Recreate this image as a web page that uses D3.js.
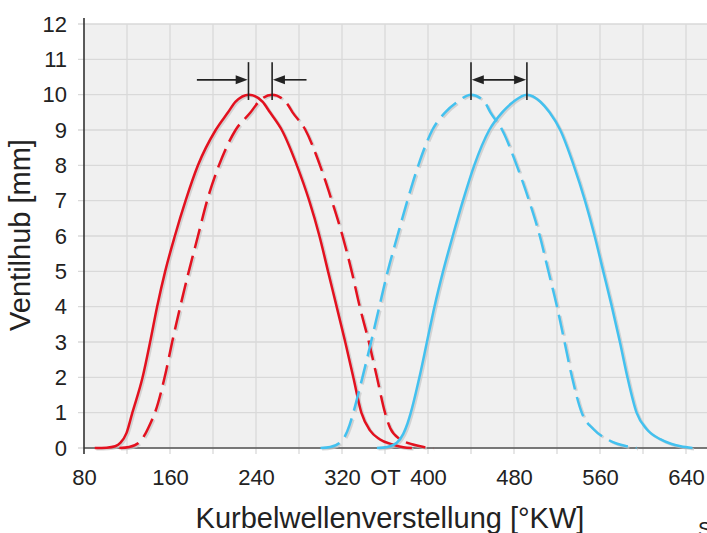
<!DOCTYPE html>
<html>
<head>
<meta charset="utf-8">
<script src="https://cdn.jsdelivr.net/npm/d3@7"></script>
<style>
  html, body { margin: 0; padding: 0; background: #ffffff; }
  svg { display: block; }
  text { font-family: "Liberation Sans", Arial, Helvetica, sans-serif; fill: #222; }
</style>
</head>
<body>
<svg id="chart" width="707" height="533"></svg>
<script>
// ---------- data (crank angle [°KW], valve lift [mm]) ----------
const redSolidAngle = [90,101,109,114,119.5,125,134.5,141.5,148,155.5,164.5,174.5,186,202.5,214,221,233.5,246,253,264,278,289.5,299,307,315,323,330.5,338,346,355,367,377,385];
const redSolidLift  = [0,0.01,0.05,0.15,0.42,1,2,3,4,5,6,7,8,9,9.5,9.8,10,9.8,9.5,9,8,7,6,5,4,3,2,1,0.5,0.25,0.1,0.02,0];

const redDashAngle = [113,122,131,137,141.5,146,155,162,169.5,177.5,186,194.5,205.5,221,235,242.5,255,267.5,274,286,299.5,310.5,320.5,329,336.5,345,352.5,360,365,374,386,396,405];
const redDashLift  = [0,0.03,0.15,0.4,0.68,1,2,3,4,5,6,7,8,9,9.5,9.8,10,9.8,9.5,9,8,7,6,5,4,3,2,1,0.55,0.25,0.1,0.03,0];

const blueSolidAngle = [352.5,362,371,377,381,384,392,399,406,414,423,432.5,443,457,469,479.5,492,504.5,513,523,535.5,546,555,563,571,578.5,585.5,594,603.5,616,626,635,646];
const blueSolidLift  = [0,0.03,0.15,0.4,0.7,1,2,3,4,5,6,7,8,9,9.5,9.8,10,9.8,9.5,9,8,7,6,5,4,3,2,1,0.53,0.25,0.12,0.05,0];

const blueDashAngle = [300,309,318,323,327,330.5,339,347,354.7,362.5,371.5,380.8,391,404,416,427.5,440,452.5,458,469,482.5,494,504,512,520,527,534,543,554,566.5,576,585,594];
const blueDashLift  = [0,0.03,0.15,0.35,0.65,1,2,3,4,5,6,7,8,9,9.5,9.8,10,9.8,9.5,9,8,7,6,5,4,3,2,1,0.53,0.25,0.12,0.05,0];

// peak markers and shift arrows
const markerAngles = [233, 255, 440, 492];
const markerLiftRange = [9.85, 10.92];
const arrowLift = 10.42;
const redArrowFrom = [185, 287];   // arrows pointing inward to red peaks
const redArrowTo   = [233, 255];
const blueArrowEnds = [440, 492];  // double-headed arrow

const xTickValues = [80,160,240,320,360,400,480,560,640];
const xTickLabels = ["80","160","240","320","OT","400","480","560","640"];
const xGridValues = [120,160,200,240,280,320,360,400,440,480,520,560,600,640];
const yTickValues = [0,1,2,3,4,5,6,7,8,9,10,11,12];

const xTitle = "Kurbelwellenverstellung [°KW]";
const yTitle = "Ventilhub [mm]";

// ---------- layout ----------
const svg = d3.select("#chart");
const mLeft = 84, mRight = 707, mTop = 24, mBottom = 448;
const x = d3.scaleLinear().domain([80, 80 + (mRight - mLeft) / 1.075]).range([mLeft, mRight]);
const y = d3.scaleLinear().domain([0, 12]).range([mBottom, mTop]);

const RED = "#e3111f", BLUE = "#43c1ef";

// background
svg.append("rect").attr("x", mLeft).attr("y", mTop).attr("width", mRight - mLeft).attr("height", mBottom - mTop).attr("fill", "#f0f0f0");

// grid
const grid = svg.append("g").attr("stroke", "#d9d9d9").attr("stroke-width", 1.3);
grid.selectAll("line.v").data(xGridValues).join("line").attr("class", "v")
  .attr("x1", d => x(d)).attr("x2", d => x(d)).attr("y1", mTop).attr("y2", mBottom + 6);
grid.selectAll("line.h").data(yTickValues).join("line").attr("class", "h")
  .attr("x1", mLeft - 6).attr("x2", mRight).attr("y1", d => y(d)).attr("y2", d => y(d));

// axes lines
svg.append("line").attr("x1", mLeft).attr("x2", mRight).attr("y1", mBottom).attr("y2", mBottom).attr("stroke", "#555").attr("stroke-width", 1.6);
svg.append("line").attr("x1", mLeft).attr("x2", mLeft).attr("y1", mTop - 6).attr("y2", mBottom + 6).attr("stroke", "#333").attr("stroke-width", 1.6);

// tick labels
const yAxis = d3.axisLeft(y).tickValues(yTickValues).tickSize(0).tickPadding(17);
const gy = svg.append("g").attr("transform", `translate(${mLeft},0)`).call(yAxis);
gy.select(".domain").remove();
gy.selectAll("text").style("font-size", "22px").attr("fill", "#222");

const xAxis = d3.axisBottom(x).tickValues(xTickValues).tickSize(0).tickPadding(21)
  .tickFormat((d, i) => xTickLabels[i]);
const gx = svg.append("g").attr("transform", `translate(0,${mBottom})`).call(xAxis);
gx.select(".domain").remove();
gx.selectAll("text").style("font-size", "22px").attr("fill", "#222");

// titles
svg.append("text").attr("x", 390).attr("y", 528).attr("text-anchor", "middle")
  .style("font-size", "29px").text(xTitle);
svg.append("text").attr("transform", "translate(30,235) rotate(-90)").attr("text-anchor", "middle")
  .style("font-size", "29px").text(yTitle);
svg.append("text").attr("x", 698).attr("y", 536).style("font-size", "20px").text("S");

// curves
const line = d3.line().x(d => x(d[0])).y(d => y(d[1])).curve(d3.curveMonotoneX);
const series = [
  { a: redSolidAngle, l: redSolidLift, c: RED, dash: null },
  { a: redDashAngle, l: redDashLift, c: RED, dash: "20,8" },
  { a: blueSolidAngle, l: blueSolidLift, c: BLUE, dash: null },
  { a: blueDashAngle, l: blueDashLift, c: BLUE, dash: "20,8" }
];
const curves = svg.append("g");
series.forEach(s => {
  const pts = s.a.map((v, i) => [v, s.l[i]]);
  curves.append("path").attr("d", line(pts)).attr("fill", "none")
    .attr("stroke", "#c4c4c4").attr("stroke-opacity", 0.7).attr("stroke-width", 2.6)
    .attr("stroke-dasharray", s.dash).attr("transform", "translate(1.6,1.2)");
});
series.forEach(s => {
  const pts = s.a.map((v, i) => [v, s.l[i]]);
  curves.append("path").attr("d", line(pts)).attr("fill", "none")
    .attr("stroke", s.c).attr("stroke-width", 2.5).attr("stroke-linecap", "butt")
    .attr("stroke-dasharray", s.dash);
});

// markers
const mk = svg.append("g").attr("stroke", "#222").attr("stroke-width", 1.6);
mk.selectAll("line").data(markerAngles).join("line")
  .attr("x1", d => x(d)).attr("x2", d => x(d))
  .attr("y1", y(markerLiftRange[0])).attr("y2", y(markerLiftRange[1]));

function arrowHead(tipX, dir) { // dir +1 points right, -1 points left
  const yy = y(arrowLift), L = 12, H = 4.5;
  svg.append("path").attr("d", `M${tipX},${yy} L${tipX - dir * L},${yy - H} L${tipX - dir * L},${yy + H} Z`).attr("fill", "#222");
}
redArrowFrom.forEach((f, i) => {
  const t = redArrowTo[i];
  const dir = t > f ? 1 : -1;
  svg.append("line").attr("x1", x(f)).attr("x2", x(t) - dir * 6).attr("y1", y(arrowLift)).attr("y2", y(arrowLift))
    .attr("stroke", "#222").attr("stroke-width", 1.6);
  arrowHead(x(t) - dir * 0.8, dir);
});
svg.append("line").attr("x1", x(blueArrowEnds[0]) + 6).attr("x2", x(blueArrowEnds[1]) - 6)
  .attr("y1", y(arrowLift)).attr("y2", y(arrowLift)).attr("stroke", "#222").attr("stroke-width", 1.6);
arrowHead(x(blueArrowEnds[0]) + 0.8, -1);
arrowHead(x(blueArrowEnds[1]) - 0.8, 1);
</script>
</body>
</html>
